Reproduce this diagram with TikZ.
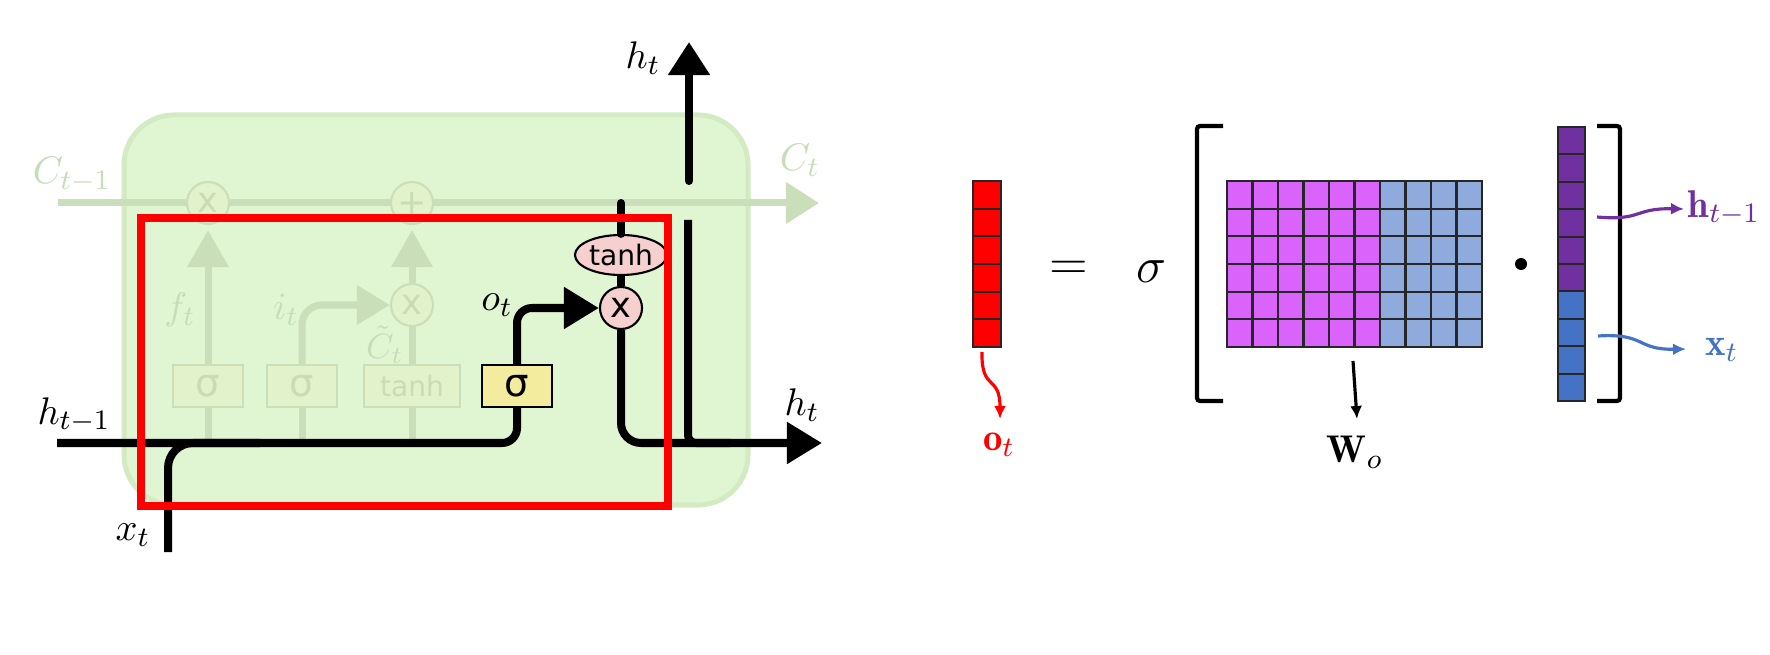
\documentclass[tikz,border=0pt]{standalone}
\usepackage{fontspec}
\usepackage{amsmath}
\newfontfamily\gatefont{DejaVu Sans}
\usetikzlibrary{arrows.meta,positioning,shapes.geometric}
\definecolor{cellgreen}{HTML}{E0F5D2}
\definecolor{cellrim}{HTML}{D3EBC3}
\definecolor{fadeline}{HTML}{CADEBA}
\definecolor{fadebox}{HTML}{E2F3CC}
\definecolor{fadetext}{HTML}{C8DCB8}
\definecolor{gateyellow}{HTML}{F3EC9E}
\definecolor{gatepink}{HTML}{F6CFCF}
\definecolor{wpurple}{HTML}{D963FB}
\definecolor{wblue}{HTML}{8FAADC}
\definecolor{hpurple}{HTML}{7030A0}
\definecolor{xblue}{HTML}{4472C4}

\begin{document}
\begin{tikzpicture}[x=0.01cm, y=-0.01cm,
    flow/.style={line width=0.08cm, rounded corners=0.15cm},
    faded/.style={line width=0.07cm, draw=fadeline},
    bighead/.style={-{Triangle[length=0.35cm, width=0.40cm]}},
    fadegate/.style={rectangle, draw=fadeline, fill=fadebox, line width=0.6pt, minimum width=0.70cm, minimum height=0.42cm, inner sep=0pt, text=fadetext, font=\gatefont\fontsize{11}{11}\selectfont},
    gate/.style={fadegate, draw=black, fill=gateyellow, text=black},
    op/.style={circle, draw=black, fill=gatepink, line width=0.6pt, minimum size=0.42cm, inner sep=0pt, font=\gatefont\fontsize{10}{10}\selectfont},
    fadeop/.style={op, draw=fadeline, fill=fadebox, text=fadetext},
    lbl/.style={inner sep=0pt, font=\fontsize{11}{11}\selectfont},
    fadelbl/.style={lbl, text=fadetext},
    cell/.style={draw=black!85, line width=0.6pt},
    curly/.style={line width=0.9pt, -{Latex[length=0.13cm, width=0.12cm]}}]
    \useasboundingbox (0,0) rectangle (1770,655);

    % LSTM cell
    \draw[fill=cellgreen, draw=cellrim, line width=0.05cm, rounded corners=0.5cm] (124,115) rectangle (748,505);

    \node[fadeop] (fx) at (208,203) {x};
    \node[fadeop] (cp) at (412,203) {+};
    \node[fadeop] (ix) at (412,305) {x};
    \node[fadegate] (sf) at (208,386) {σ};
    \node[fadegate] (si) at (302,386) {σ};
    \node[fadegate, minimum width=0.96cm, font=\gatefont\fontsize{8}{8}\selectfont] (tc) at (412,386) {tanh};
    \node[gate] (so) at (517,386) {σ};
    \node[op, ellipse, minimum width=0.92cm, minimum height=0.40cm, font=\gatefont\fontsize{8}{8}\selectfont] (th) at (621,255) {tanh};
    \node[op] (ox) at (621,308) {x};

    \coordinate (cin) at (58,203);
    \coordinate (cout) at (819,203);
    \coordinate (hin) at (57,443);
    \coordinate (hout) at (822,443);
    \coordinate (xin) at (168,552);
    \coordinate (xjoin) at (260,443);
    \coordinate (cjoin) at (621,203);
    \coordinate (gaplow) at (688,220);
    \coordinate (gapjoin) at (730,443);
    \coordinate (hupfoot) at (689,181);
    \coordinate (huptip) at (689,42);

    \draw[faded] (cin) -- (fx.west);
    \draw[faded] (fx.east) -- (cp.west);
    \draw[faded, -{Triangle[length=0.33cm, width=0.40cm]}] (cp.east) -- (cout);
    \draw[faded, -{Triangle[length=0.37cm, width=0.40cm]}, shorten >=0.05cm] (sf.north) -- (fx.south);
    \draw[faded, -{Triangle[length=0.37cm, width=0.40cm]}, shorten >=0.05cm] (ix.north) -- (cp.south);
    \draw[faded, rounded corners=0.2cm, -{Triangle[length=0.33cm, width=0.38cm]}] (si.north) |- (ix.west);
    \draw[faded] (tc.north) -- (ix.south);
    \draw[faded] (sf.south) -- (sf.south |- hin);
    \draw[faded] (si.south) -- (si.south |- hin);
    \draw[faded] (tc.south) -- (tc.south |- hin);

    \node[fadelbl] (cprev) at (72,175) {$C_{t-1}$};
    \node[fadelbl] (cnext) at (800,160) {$C_t$};
    \node[fadelbl] (flab) at (180,310) {$f_t$};
    \node[fadelbl] (ilab) at (286,310) {$i_t$};
    \node[fadelbl, font=\fontsize{10}{10}\selectfont] (ctlab) at (385,345) {$\tilde{C}_t$};

    \draw[flow] (hin) -| (so.south);
    \draw[flow, rounded corners=0.25cm] (xin) |- (xjoin);
    \draw[flow, bighead] (so.north) |- (ox.west);
    \draw[flow, rounded corners=0.2cm, bighead] (ox.south) |- (hout);
    \draw[flow, line cap=round] (cjoin) -- (th.north);
    \draw[flow] (th.south) -- (ox.north);
    \draw[flow, rounded corners=0.08cm] (gaplow) |- (gapjoin);
    \draw[flow, line cap=round, -{Triangle[length=0.33cm, width=0.40cm]}] (hupfoot) -- (huptip);

    \node[lbl] (olab) at (497,305) {$o_t$};
    \node[lbl] (hup) at (643,58) {$h_t$};
    \node[lbl] (hright) at (802,405) {$h_t$};
    \node[lbl] (hprev) at (74,415) {$h_{t-1}$};
    \node[lbl] (xlab) at (133,535) {$x_t$};

    \draw[red, line width=0.08cm] (141,218) rectangle (668,506);

    % output gate as matrix product
    \foreach \r in {0,...,5}
        \draw[cell, fill=red] (973,{181+\r*27.67}) rectangle +(28,27.67);
    \foreach \c in {0,...,5}
        \foreach \r in {0,...,5}
            \draw[cell, fill=wpurple] ({1227+\c*25.5},{181+\r*27.67}) rectangle +(25.5,27.67);
    \foreach \c in {6,...,9}
        \foreach \r in {0,...,5}
            \draw[cell, fill=wblue] ({1227+\c*25.5},{181+\r*27.67}) rectangle +(25.5,27.67);
    \foreach \r in {0,...,5}
        \draw[cell, fill=hpurple] (1558,{127+\r*27.4}) rectangle +(27,27.4);
    \foreach \r in {6,...,9}
        \draw[cell, fill=xblue] (1558,{127+\r*27.4}) rectangle +(27,27.4);

    \draw[line width=1.2pt, rounded corners=0.03cm] (1223,126) -- (1197,126) -- (1197,401) -- (1223,401);
    \draw[line width=1.2pt, rounded corners=0.03cm] (1597,126) -- (1620,126) -- (1620,401) -- (1597,401);

    \node[font=\fontsize{14}{14}\selectfont] (eq) at (1069,270) {$=$};
    \node[font=\fontsize{14}{14}\selectfont] (sig) at (1151,272) {$\sigma$};
    \node[circle, fill=black, inner sep=0pt, minimum size=0.12cm] (dotop) at (1521,264) {};

    \coordinate (otail) at (982,352);
    \coordinate (otip) at (1000,419);
    \coordinate (wtail) at (1353,361);
    \coordinate (wtip) at (1357,419);
    \coordinate (htail) at (1597,217);
    \coordinate (htip) at (1684,209);
    \coordinate (xtail) at (1598,336);
    \coordinate (xtip) at (1686,349);

    \draw[curly, red] (otail) .. controls (981,392) and (1000,374) .. (otip);
    \draw[curly] (wtail) -- (wtip);
    \draw[curly, hpurple] (htail) .. controls (1642,221) and (1634,208) .. (htip);
    \draw[curly, xblue] (xtail) .. controls (1646,333) and (1636,350) .. (xtip);

    \node[lbl, text=red] (ovec) at (999,445) {$\mathbf{o}_t$};
    \node[lbl] (wmat) at (1355,452) {$\mathbf{W}_o$};
    \node[lbl, text=hpurple] (hvec) at (1724,208) {$\mathbf{h}_{t-1}$};
    \node[lbl, text=xblue] (xvec) at (1722,350) {$\mathbf{x}_t$};
\end{tikzpicture}
\end{document}
